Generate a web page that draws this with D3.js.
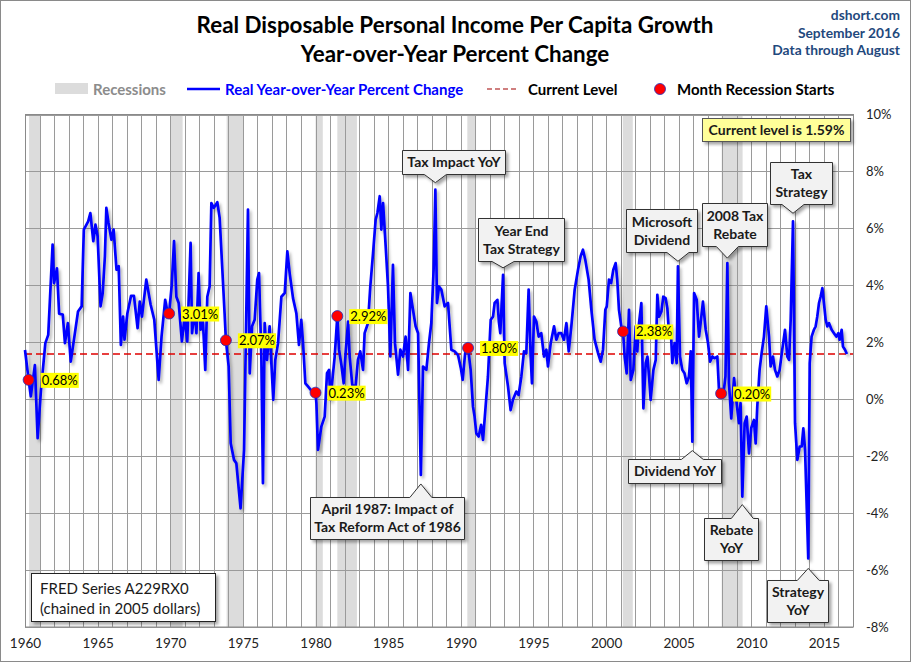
<!DOCTYPE html>
<html>
<head>
<meta charset="utf-8">
<script src="https://cdn.jsdelivr.net/npm/d3@7"></script>
<style>
  html, body { margin: 0; padding: 0; background: #fff; }
  svg { display: block; font-family: Lato, sans-serif; }
</style>
</head>
<body>
<svg id="chart" width="911" height="662"></svg>
<script>
// ---------------- DATA ----------------
const yearTicks = [1960, 1965, 1970, 1975, 1980, 1985, 1990, 1995, 2000, 2005, 2010, 2015];
const pctTicks = [-8, -6, -4, -2, 0, 2, 4, 6, 8, 10];
const currentLevel = 1.59;

// recession spans [start, end] as decimal years
const recessions = [
  [1960.28, 1961.05], [1970.0, 1970.85], [1973.88, 1975.05], [1980.0, 1980.5],
  [1981.5, 1982.85], [1990.45, 1991.05], [2001.15, 2001.84], [2007.96, 2009.4]
];

// month each recession starts, with YoY value
const recessionStarts = [
  [1960.25, 0.68], [1969.92, 3.01], [1973.83, 2.07], [1980.0, 0.23],
  [1981.5, 2.92], [1990.5, 1.80], [2001.17, 2.38], [2007.92, 0.20]
];

// Real YoY % change (decimal year, percent)
const yoySeries = [
  [1960.0,1.73],[1960.25,0.68],[1960.4,0.1],[1960.68,1.2],[1960.87,-1.37],[1961.1,0.33],[1961.4,1.97],[1961.6,2.26],
  [1961.9,5.43],[1962.0,4.08],[1962.2,4.6],[1962.35,3.0],[1962.6,2.97],[1962.75,1.97],[1962.95,2.67],[1963.15,1.32],
  [1963.4,2.2],[1963.65,3.08],[1963.9,3.26],[1964.05,5.96],[1964.35,6.25],[1964.5,6.54],[1964.7,5.55],[1964.85,6.13],
  [1965.0,5.72],[1965.2,3.26],[1965.35,3.73],[1965.5,5.02],[1965.6,6.72],[1965.75,6.19],[1965.95,5.6],[1966.1,5.96],
  [1966.3,4.55],[1966.45,4.67],[1966.6,1.91],[1966.75,2.9],[1966.85,2.09],[1967.05,3.02],[1967.3,3.63],[1967.5,3.63],
  [1967.75,2.5],[1967.9,3.43],[1968.05,2.9],[1968.35,4.2],[1968.65,3.32],[1968.9,2.79],[1969.2,0.68],[1969.4,2.2],
  [1969.65,3.49],[1969.8,3.08],[1969.92,3.01],[1970.1,4.0],[1970.26,5.55],[1970.42,3.6],[1970.58,3.38],[1970.8,2.03],
  [1970.99,2.9],[1971.17,2.03],[1971.4,5.49],[1971.5,2.32],[1971.68,3.14],[1971.8,2.32],[1971.95,4.43],[1972.09,2.44],
  [1972.25,2.73],[1972.41,1.03],[1972.55,3.6],[1972.71,3.96],[1972.83,6.89],[1973.0,6.72],[1973.24,6.92],[1973.4,6.37],
  [1973.58,4.6],[1973.74,3.02],[1973.83,2.07],[1974.02,1.15],[1974.16,-1.55],[1974.39,-2.13],[1974.55,-2.25],[1974.84,-3.83],
  [1975.08,-1.78],[1975.17,1.03],[1975.35,6.66],[1975.47,0.91],[1975.63,2.56],[1975.81,2.79],[1975.99,4.2],[1976.11,4.43],
  [1976.27,1.5],[1976.38,-2.95],[1976.5,2.67],[1976.66,1.38],[1976.84,2.56],[1976.96,1.27],[1977.09,-0.02],[1977.23,1.38],
  [1977.42,1.97],[1977.65,3.6],[1977.88,3.73],[1978.06,5.19],[1978.22,4.43],[1978.45,3.55],[1978.68,3.02],[1978.86,1.91],
  [1979.02,2.79],[1979.14,1.97],[1979.3,0.56],[1979.48,0.45],[1979.76,0.27],[1980.0,0.23],[1980.06,-0.14],[1980.17,-1.78],
  [1980.4,-0.96],[1980.63,-0.61],[1980.79,0.91],[1980.93,1.03],[1981.02,-0.02],[1981.16,0.68],[1981.32,1.5],[1981.5,2.92],
  [1981.62,1.74],[1981.78,1.21],[1981.94,0.56],[1982.08,1.68],[1982.24,2.73],[1982.35,1.5],[1982.53,0.5],[1982.76,0.45],
  [1982.92,1.38],[1983.08,1.68],[1983.27,1.03],[1983.38,2.32],[1983.61,2.67],[1983.77,3.96],[1983.96,5.13],[1984.14,6.31],
  [1984.26,6.54],[1984.42,7.13],[1984.53,5.96],[1984.65,6.89],[1984.83,5.37],[1984.99,3.96],[1985.15,1.5],[1985.33,4.72],
  [1985.47,1.97],[1985.68,0.86],[1985.84,1.74],[1986.02,1.5],[1986.2,2.2],[1986.37,1.03],[1986.53,3.73],[1986.71,3.14],
  [1986.89,2.56],[1987.06,2.32],[1987.25,-2.66],[1987.4,1.15],[1987.63,1.03],[1987.81,1.97],[1987.97,2.67],[1988.13,4.55],
  [1988.25,7.36],[1988.36,3.38],[1988.5,3.96],[1988.66,3.85],[1988.89,3.26],[1989.12,3.38],[1989.35,1.74],[1989.58,1.68],
  [1989.81,1.55],[1990.0,1.1],[1990.13,0.68],[1990.3,1.62],[1990.5,1.8],[1990.68,1.03],[1990.84,-0.26],[1990.95,-0.61],
  [1991.07,-1.2],[1991.23,-1.31],[1991.4,-0.9],[1991.53,-1.43],[1991.69,-0.38],[1991.87,0.8],[1992.06,2.79],[1992.22,2.9],
  [1992.33,3.38],[1992.52,3.49],[1992.62,2.73],[1992.72,2.32],[1992.91,4.37],[1993.02,1.27],[1993.25,0.45],[1993.43,-0.38],
  [1993.59,-0.02],[1993.82,0.27],[1993.98,0.15],[1994.17,0.8],[1994.35,1.68],[1994.51,1.62],[1994.67,3.85],[1994.81,1.5],
  [1994.9,0.56],[1995.04,2.9],[1995.2,2.73],[1995.36,2.2],[1995.54,2.32],[1995.73,1.5],[1995.89,1.74],[1996.0,1.15],
  [1996.19,1.97],[1996.42,2.56],[1996.58,2.09],[1996.74,2.32],[1996.92,2.32],[1997.1,2.09],[1997.27,2.67],[1997.43,1.68],
  [1997.61,2.56],[1997.84,3.85],[1998.07,4.55],[1998.25,5.02],[1998.41,5.25],[1998.57,4.9],[1998.8,4.2],[1998.99,3.14],
  [1999.21,2.09],[1999.45,1.62],[1999.63,1.32],[1999.79,1.74],[1999.95,3.14],[2000.05,3.26],[2000.2,4.2],[2000.35,4.08],
  [2000.5,4.55],[2000.66,4.78],[2000.77,4.2],[2000.89,3.14],[2001.05,2.56],[2001.17,2.38],[2001.28,1.5],[2001.42,0.91],
  [2001.58,3.14],[2001.7,0.68],[2001.88,1.03],[2002.04,2.56],[2002.15,1.68],[2002.27,2.67],[2002.43,3.38],[2002.57,-0.32],
  [2002.73,1.27],[2002.85,1.5],[2002.96,0.8],[2003.07,-0.02],[2003.26,1.03],[2003.42,1.38],[2003.53,3.67],[2003.65,2.9],
  [2003.81,3.08],[2003.94,3.6],[2004.1,3.55],[2004.22,3.2],[2004.33,2.32],[2004.45,2.56],[2004.56,1.27],[2004.72,1.97],
  [2004.86,1.27],[2004.95,4.67],[2005.09,1.5],[2005.25,1.03],[2005.4,0.91],[2005.55,0.56],[2005.71,0.8],[2005.83,1.68],
  [2005.94,-1.49],[2006.06,3.73],[2006.24,3.49],[2006.4,2.2],[2006.51,2.67],[2006.67,3.43],[2006.86,2.44],[2007.02,1.97],
  [2007.16,1.32],[2007.32,1.5],[2007.48,1.44],[2007.66,1.5],[2007.78,0.27],[2007.92,0.2],[2008.06,0.09],[2008.22,0.8],
  [2008.35,4.78],[2008.46,0.56],[2008.62,-0.67],[2008.81,0.74],[2008.99,-0.14],[2009.15,-0.84],[2009.26,-0.14],[2009.38,-3.42],
  [2009.54,-0.84],[2009.68,-0.61],[2009.84,-1.9],[2010.0,-1.0],[2010.18,-0.73],[2010.3,-1.55],[2010.41,-0.26],[2010.57,1.03],
  [2010.71,1.62],[2010.87,2.2],[2011.03,3.26],[2011.22,2.2],[2011.33,1.15],[2011.49,1.5],[2011.63,1.03],[2011.79,0.8],
  [2011.95,1.03],[2012.13,1.74],[2012.32,2.44],[2012.48,1.5],[2012.6,1.38],[2012.71,2.79],[2012.87,6.25],[2013.01,-0.84],
  [2013.17,-2.13],[2013.33,-1.66],[2013.47,-1.66],[2013.58,-1.02],[2013.7,-1.78],[2013.92,-5.59],[2014.02,1.27],[2014.15,2.2],
  [2014.31,2.44],[2014.43,2.56],[2014.54,2.9],[2014.66,3.38],[2014.77,3.6],[2014.89,3.9],[2015.0,3.38],[2015.12,2.79],
  [2015.23,2.56],[2015.35,2.67],[2015.53,2.44],[2015.69,2.32],[2015.85,2.2],[2015.99,2.32],[2016.08,2.09],[2016.22,2.44],
  [2016.31,1.85],[2016.45,1.74],[2016.58,1.59]
];

// callout annotations: text lines, target point [year, value]
const annotationTexts = [
  ["Tax Impact YoY"],
  ["April 1987: Impact of", "Tax Reform Act of 1986"],
  ["Year End", "Tax Strategy"],
  ["Microsoft", "Dividend"],
  ["2008 Tax", "Rebate"],
  ["Tax", "Strategy"],
  ["Dividend YoY"],
  ["Rebate", "YoY"],
  ["Strategy", "YoY"]
];
const annotationTargets = [
  [1988.25, 7.36], [1987.25, -2.66], [1992.91, 4.37], [2004.95, 4.67], [2008.35, 4.78],
  [2012.87, 6.25], [2005.94, -1.49], [2009.38, -3.42], [2013.92, -5.59]
];

// ---------------- LAYOUT ----------------
// box layout for each callout: [left, top, width, height, tip gap]
const annotationBoxes = [
  [402, 150, 103, 24, -7], [310, 497, 154, 42, 9], [478, 218, 86, 43, -7], [626, 209, 71, 43, -5],
  [702, 203, 65, 43, -5], [770, 162, 62, 42, -8], [628, 459, 93, 24, 9], [704, 518, 54, 42, 8], [767, 580, 61, 42, 10]
];

const svg = d3.select("#chart");
const W = 911, H = 662;
const plot = { left: 25, right: 853, top: 114.5, bottom: 627 };

const x = d3.scaleLinear().domain([1960, 2017]).range([plot.left, plot.right]);
const y = d3.scaleLinear().domain([-8, 10]).range([plot.bottom, plot.top]);

const defs = svg.append("defs");
const sh = defs.append("filter").attr("id", "shadow").attr("x", "-20%").attr("y", "-20%").attr("width", "140%").attr("height", "140%");
sh.append("feDropShadow").attr("dx", 2.5).attr("dy", 2.5).attr("stdDeviation", 1.6).attr("flood-color", "#000").attr("flood-opacity", 0.35);
const lsh = defs.append("filter").attr("id", "lineShadow").attr("x", "-5%").attr("y", "-5%").attr("width", "110%").attr("height", "110%");
lsh.append("feDropShadow").attr("dx", 2).attr("dy", 2.5).attr("stdDeviation", 1.5).attr("flood-color", "#000").attr("flood-opacity", 0.3);

// background + outer border
svg.append("rect").attr("x", 0.5).attr("y", 0.5).attr("width", W - 1).attr("height", H - 1)
  .attr("fill", "#fff").attr("stroke", "#8a8a8a").attr("stroke-width", 1);

// recession bands
svg.append("g").selectAll("rect").data(recessions).join("rect")
  .attr("x", d => x(d[0])).attr("width", d => x(d[1]) - x(d[0]))
  .attr("y", plot.top).attr("height", plot.bottom - plot.top)
  .attr("fill", "#dcdcdc");

// gridlines
const grid = svg.append("g").attr("stroke", "#9a9a9a").attr("stroke-width", 1);
grid.selectAll("line.v").data(d3.range(1960, 2017)).join("line").attr("class", "v")
  .attr("x1", d => Math.round(x(d)) + 0.5).attr("x2", d => Math.round(x(d)) + 0.5)
  .attr("y1", plot.top).attr("y2", plot.bottom);
grid.selectAll("line.h").data(pctTicks).join("line").attr("class", "h")
  .attr("x1", plot.left).attr("x2", plot.right)
  .attr("y1", d => Math.round(y(d)) + 0.5).attr("y2", d => Math.round(y(d)) + 0.5);
svg.append("rect").attr("x", plot.left + 0.5).attr("y", plot.top).attr("width", plot.right - plot.left)
  .attr("height", plot.bottom - plot.top).attr("fill", "none").attr("stroke", "#8a8a8a");

// axes
const yAxis = svg.append("g").attr("transform", `translate(${plot.right},0)`)
  .call(d3.axisRight(y).tickValues(pctTicks).tickFormat(d => d + "%").tickSize(0).tickPadding(13));
yAxis.select(".domain").remove();
yAxis.selectAll("text").attr("font-size", 13).attr("fill", "#222").attr("font-family", "Lato, sans-serif");

const xAxis = svg.append("g").attr("transform", `translate(0,${plot.bottom})`)
  .call(d3.axisBottom(x).tickValues(yearTicks).tickFormat(d3.format("d")).tickSize(0).tickPadding(11));
xAxis.select(".domain").remove();
xAxis.selectAll("text").attr("font-size", 13.5).attr("fill", "#222").attr("font-family", "Lato, sans-serif");

// current level dashed line
svg.append("line").attr("x1", plot.left).attr("x2", plot.right)
  .attr("y1", y(currentLevel)).attr("y2", y(currentLevel))
  .attr("stroke", "#e00000").attr("stroke-width", 1.5).attr("stroke-dasharray", "7,4");

// main line
const line = d3.line().x(d => x(d[0])).y(d => y(d[1]));
svg.append("path").datum(yoySeries).attr("d", line)
  .attr("fill", "none").attr("stroke", "#0000ff").attr("stroke-width", 2.7)
  .attr("stroke-linejoin", "round").attr("filter", "url(#lineShadow)");

// recession start dots + labels
const dots = svg.append("g");
recessionStarts.forEach(d => {
  const cx = x(d[0]), cy = y(d[1]);
  const label = d[1].toFixed(2) + "%";
  const g = dots.append("g");
  const t = g.append("text").attr("x", cx + 13).attr("y", cy + 5)
    .attr("font-size", 13).attr("fill", "#000").text(label);
  const bb = t.node().getBBox();
  g.insert("rect", "text").attr("x", bb.x - 1).attr("y", bb.y + 1).attr("width", bb.width + 2).attr("height", bb.height - 1)
    .attr("fill", "#ffff00");
  g.append("circle").attr("cx", cx).attr("cy", cy).attr("r", 5.5)
    .attr("fill", "#ff0000").attr("stroke", "#2030c0").attr("stroke-width", 0.8);
});

// callouts
function calloutPath(bx, by, bw, bh, tx, ty) {
  const hw = 11;
  const c = Math.max(bx + hw + 4, Math.min(bx + bw - hw - 4, tx));
  if (ty < by) {
    return `M${bx},${by} L${c - hw},${by} L${tx},${ty} L${c + hw},${by} L${bx + bw},${by} L${bx + bw},${by + bh} L${bx},${by + bh} Z`;
  }
  return `M${bx},${by} L${bx + bw},${by} L${bx + bw},${by + bh} L${c + hw},${by + bh} L${tx},${ty} L${c - hw},${by + bh} L${bx},${by + bh} Z`;
}
const ann = svg.append("g");
annotationTexts.forEach((lines, i) => {
  const [bx, by, bw, bh, gap] = annotationBoxes[i];
  const [ty0, tv] = annotationTargets[i];
  const tx = x(ty0), ty = y(tv) + gap;
  ann.append("path").attr("d", calloutPath(bx + 0.5, by + 0.5, bw, bh, tx, ty))
    .attr("fill", "#f2f2f2").attr("stroke", "#333").attr("stroke-width", 1).attr("filter", "url(#shadow)");
  const cy = by + bh / 2;
  const lh = 18;
  lines.forEach((s, j) => {
    ann.append("text").attr("x", bx + bw / 2 + 0.5).attr("y", cy + (j - (lines.length - 1) / 2) * lh + 5)
      .attr("text-anchor", "middle").attr("font-size", 14).attr("font-weight", "bold").attr("fill", "#1a1a1a").text(s);
  });
});

// current level box
svg.append("rect").attr("x", 702.5).attr("y", 118.5).attr("width", 148).attr("height", 23)
  .attr("fill", "#ffff99").attr("stroke", "#555").attr("filter", "url(#shadow)");
svg.append("text").attr("x", 776.5).attr("y", 135).attr("text-anchor", "middle")
  .attr("font-size", 14).attr("font-weight", "bold").attr("fill", "#1a1a1a").text("Current level is " + currentLevel.toFixed(2) + "%");

// FRED box
svg.append("rect").attr("x", 31.5).attr("y", 573.5).attr("width", 184).attr("height", 48)
  .attr("fill", "#fff").attr("stroke", "#222").attr("filter", "url(#shadow)");
svg.append("text").attr("x", 40).attr("y", 594).attr("font-size", 15).attr("fill", "#1a1a1a").text("FRED Series A229RX0");
svg.append("text").attr("x", 40).attr("y", 614).attr("font-size", 15).attr("fill", "#1a1a1a").text("(chained in 2005 dollars)");

// titles
svg.append("text").attr("x", 455).attr("y", 33).attr("text-anchor", "middle").attr("font-size", 22.4).attr("font-weight", "bold")
  .attr("fill", "#000").text("Real Disposable Personal Income Per Capita Growth");
svg.append("text").attr("x", 455).attr("y", 62).attr("text-anchor", "middle").attr("font-size", 22.4).attr("font-weight", "bold")
  .attr("fill", "#000").text("Year-over-Year Percent Change");

const srcLines = ["dshort.com", "September 2016", "Data through August"];
srcLines.forEach((s, i) => {
  svg.append("text").attr("x", 900).attr("y", 20 + i * 17.5).attr("text-anchor", "end")
    .attr("font-size", 13.8).attr("font-weight", "bold").attr("fill", "#1f497d").text(s);
});

// legend
const lg = svg.append("g").attr("font-size", 15).attr("font-weight", "bold");
lg.append("rect").attr("x", 55).attr("y", 83).attr("width", 33).attr("height", 11).attr("fill", "#dcdcdc");
lg.append("text").attr("x", 93).attr("y", 94.5).attr("fill", "#8c8c8c").text("Recessions");
lg.append("line").attr("x1", 187).attr("x2", 220).attr("y1", 89).attr("y2", 89).attr("stroke", "#0000ff").attr("stroke-width", 2.5);
lg.append("text").attr("x", 225).attr("y", 94.5).attr("fill", "#0000ff").text("Real Year-over-Year Percent Change");
lg.append("line").attr("x1", 487).attr("x2", 517).attr("y1", 89).attr("y2", 89).attr("stroke", "#a00000").attr("stroke-width", 1.2).attr("stroke-dasharray", "5,3");
lg.append("text").attr("x", 528).attr("y", 94.5).attr("fill", "#000").text("Current Level");
lg.append("circle").attr("cx", 660).attr("cy", 89).attr("r", 5.5).attr("fill", "#ff0000").attr("stroke", "#2030c0").attr("stroke-width", 0.8);
lg.append("text").attr("x", 677).attr("y", 94.5).attr("fill", "#000").text("Month Recession Starts");
</script>
</body>
</html>
